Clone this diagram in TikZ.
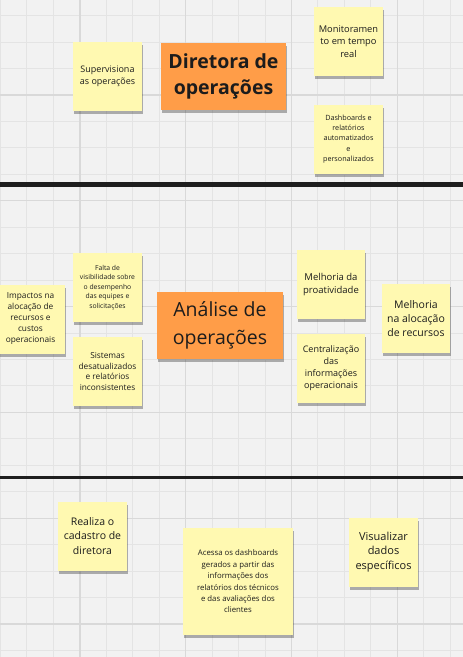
\documentclass[tikz,border=0pt]{standalone}
\usepackage{fontspec}
\setmainfont{Open Sans}
\usetikzlibrary{shadows}

\definecolor{boardbg}{HTML}{F2F2F2}
\definecolor{gridminor}{HTML}{E4E4E4}
\definecolor{gridmajor}{HTML}{D9D9D9}
\definecolor{stickyyellow}{HTML}{FFF9B1}
\definecolor{stickyorange}{HTML}{FF9D48}
\definecolor{inkgray}{HTML}{1C1C1C}
\definecolor{barblack}{HTML}{1E1E1E}

\begin{document}
\begin{tikzpicture}[
    x=1pt, y=-1pt,
    note/.style={rectangle, minimum width=69pt, minimum height=69pt, inner sep=1pt, align=center, text=inkgray, fill=stickyyellow,
        general shadow={fill=black!85, opacity=.35, shadow xshift=1pt, shadow yshift=-3pt}},
    titlenote/.style={note, fill=stickyorange, minimum width=125pt, minimum height=67pt},
    divider/.style={draw=barblack, line width=5pt},
    fsize/.style 2 args={font=\fontsize{#1}{#2}\selectfont}
]
\useasboundingbox (0,0) rectangle (463,657);

% Board and grid
\fill[boardbg] (0,0) rectangle (463,657);
\foreach \gx in {0.5,26.95,...,463} \draw[gridminor, line width=1pt] (\gx,0) -- (\gx,657);
\foreach \gy in {15.65,42.1,...,657} \draw[gridminor, line width=1pt] (0,\gy) -- (463,\gy);
\foreach \gx in {80,185.8,...,463} \draw[gridmajor, line width=1.2pt] (\gx,0) -- (\gx,657);
\foreach \gy in {95,200.8,...,657} \draw[gridmajor, line width=1.2pt] (0,\gy) -- (463,\gy);

% Row 1: Diretora de operacoes
\node[titlenote, font=\fontsize{19.5}{26.7}\selectfont\bfseries] (diretora) at (223.5,76.5) {Diretora de\\operações};
\node[note, fsize={9}{11.6}] (supervisiona) at (107.5,76.5) {Supervisiona\\as operações};
\node[note, fsize={9.3}{12.5}] (monitoramento) at (348.5,41.5) {Monitoramen\\to em tempo\\real};
\node[note, fsize={7.2}{10.4}] (dashboards) at (348.5,139) {Dashboards e\\relatórios\\automatizados\\e\\personalizados};

\draw[divider] (0,184.5) -- (463,184.5);

% Row 2: Analise de operacoes
\node[titlenote, minimum width=126pt, fsize={19.5}{27.5}] (analise) at (220,325.5) {Análise de\\operações};
\node[note, fsize={8.3}{11}] (impactos) at (30.5,319) {Impactos na\\alocação de\\recursos e\\custos\\operacionais};
\node[note, fsize={6.8}{9.5}] (falta) at (107.5,287.5) {Falta de\\visibilidade sobre\\o desempenho\\das equipes e\\solicitações};
\node[note, fsize={8.3}{10.9}] (sistemas) at (107.5,371.5) {Sistemas\\desatualizados\\e relatórios\\inconsistentes};
\node[note, minimum width=68pt, fsize={9.5}{13.4}] (proatividade) at (331,284.5) {Melhoria da\\proatividade};
\node[note, minimum width=68pt, fsize={9}{12}] (centralizacao) at (331,368.5) {Centralização\\das\\informações\\operacionais};
\node[note, minimum width=68pt, fsize={10.5}{14}] (alocacao) at (416,318.5) {Melhoria\\na alocação\\de recursos};

\draw[divider, line width=3.5pt] (0,477.5) -- (463,477.5);

% Row 3: Acoes
\node[note, fsize={10.5}{14.4}] (cadastro) at (92.5,536) {Realiza o\\cadastro de\\diretora};
\node[note, minimum width=110pt, minimum height=107pt, fsize={7.8}{11.4}] (acessa) at (238,581.5) {Acessa os dashboards\\gerados a partir das\\informações dos\\relatórios dos técnicos\\e das avaliações dos\\clientes};
\node[note, fsize={11}{14.7}] (visualizar) at (383.5,552) {Visualizar\\dados\\específicos};

\end{tikzpicture}
\end{document}
